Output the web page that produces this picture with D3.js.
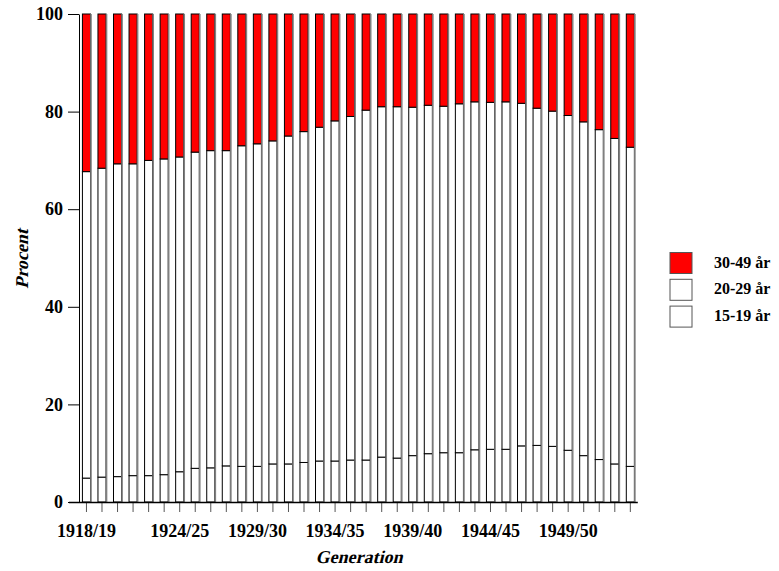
<!DOCTYPE html>
<html>
<head>
<meta charset="utf-8">
<script src="https://cdn.jsdelivr.net/npm/d3@7"></script>
<style>
  body { margin: 0; background: #fff; }
  text { font-family: "Liberation Serif", serif; font-weight: bold; }
</style>
</head>
<body>
<div id="chart"></div>
<script>
var width = 779;
var height = 571;
var serif = "'Liberation Serif', 'Times New Roman', serif";

// generations 1918/19 .. 1953/54
var generations = d3.range(1918, 1954).map(function(y) {
  return y + "/" + String((y + 1) % 100).padStart(2, "0");
});
var labelledGenerations = ["1918/19", "1924/25", "1929/30", "1934/35", "1939/40", "1944/45", "1949/50"];

// share of children by mother's age, percent
var age15_19 = [4.9, 5.1, 5.2, 5.4, 5.4, 5.6, 6.2, 6.9, 7.0, 7.4, 7.3, 7.3, 7.8, 7.8, 8.1, 8.4, 8.4, 8.6,
                8.6, 9.2, 9.0, 9.5, 9.9, 10.1, 10.1, 10.7, 10.8, 10.8, 11.5, 11.6, 11.4, 10.6, 9.5, 8.7, 7.8, 7.3];
var age20_29 = [62.8, 63.3, 64.1, 63.9, 64.6, 64.7, 64.5, 64.8, 65.0, 64.6, 65.7, 66.1, 66.2, 67.2, 67.8, 68.4, 69.7, 70.4,
                71.7, 71.8, 72.0, 71.4, 71.4, 71.0, 71.5, 71.3, 71.1, 71.2, 70.2, 69.1, 68.7, 68.6, 68.4, 67.6, 66.7, 65.4];
var age30_49 = [32.3, 31.6, 30.7, 30.7, 30.0, 29.7, 29.3, 28.3, 28.0, 28.0, 27.0, 26.6, 26.0, 25.0, 24.1, 23.2, 21.9, 21.0,
                19.7, 19.0, 19.0, 19.1, 18.7, 18.9, 18.4, 18.0, 18.1, 18.0, 18.3, 19.3, 19.9, 20.8, 22.1, 23.7, 25.5, 27.3];

var yTicks = [0, 20, 40, 60, 80, 100];

var seriesNames = ["15-19 år", "20-29 år", "30-49 år"];
var seriesColors = ["#ffffff", "#ffffff", "#ff0000"];

var table = generations.map(function(g, i) {
  return { gen: g, "15-19 år": age15_19[i], "20-29 år": age20_29[i], "30-49 år": age30_49[i] };
});

var stack = d3.stack().keys(seriesNames);
var stacked = stack(table);

/* Scales */
var x = d3.scaleBand()
  .domain(generations)
  .range([79, 637.8])
  .paddingInner(0.48)
  .paddingOuter(0.22);

var y = d3.scaleLinear()
  .domain([0, 100])
  .range([502, 14]);

var svg = d3.select("#chart")
  .append("svg")
  .attr("width", width)
  .attr("height", height);

/* Bars */
var layers = svg.append("g").attr("class", "bars")
  .selectAll("g")
  .data(stacked)
  .enter()
  .append("g")
  .attr("fill", function(d, i) { return seriesColors[i]; });

layers.selectAll("rect")
  .data(function(d) { return d; })
  .enter()
  .append("rect")
  .attr("x", function(d) { return x(d.data.gen); })
  .attr("y", function(d) { return y(d[1]); })
  .attr("width", x.bandwidth())
  .attr("height", function(d) { return y(d[0]) - y(d[1]); })
  .attr("stroke", "#000")
  .attr("stroke-width", 1);

// grey shade on the right side of each bar
svg.append("g")
  .selectAll("line")
  .data(generations)
  .enter()
  .append("line")
  .attr("x1", function(d) { return x(d) + x.bandwidth() + 0.5; })
  .attr("x2", function(d) { return x(d) + x.bandwidth() + 0.5; })
  .attr("y1", y(100))
  .attr("y2", y(0))
  .attr("stroke", "#808080")
  .attr("stroke-width", 1.6);

/* Axes */
var xAxis = d3.axisBottom(x)
  .tickSize(10)
  .tickPadding(12)
  .tickSizeOuter(0)
  .tickFormat(function(d) { return labelledGenerations.indexOf(d) >= 0 ? d : ""; });

var gx = svg.append("g")
  .attr("transform", "translate(0," + y(0) + ")")
  .call(xAxis)
  .attr("font-family", serif)
  .attr("font-size", 18);
gx.select(".domain").remove();
gx.selectAll(".tick line").attr("stroke", "#555");
gx.selectAll("text").attr("fill", "#000");

svg.append("line")
  .attr("x1", 69).attr("x2", 637.8)
  .attr("y1", y(0) + 0.5).attr("y2", y(0) + 0.5)
  .attr("stroke", "#000")
  .attr("stroke-width", 1.3);

var yAxis = d3.axisLeft(y)
  .tickValues(yTicks)
  .tickSize(11)
  .tickPadding(5)
  .tickSizeOuter(0);

var gy = svg.append("g")
  .attr("transform", "translate(79,0)")
  .call(yAxis)
  .attr("font-family", serif)
  .attr("font-size", 18);
gy.select(".domain").attr("stroke", "#000");
gy.selectAll("text").attr("fill", "#000");

/* Axis titles (slanted serif bold, the italic face is not available) */
svg.append("text")
  .attr("transform", "translate(359,563) skewX(-14)")
  .attr("text-anchor", "middle")
  .attr("font-family", serif)
  .attr("font-size", 18)
  .attr("font-weight", "bold")
  .text("Generation");

svg.append("text")
  .attr("transform", "translate(28,259) rotate(-90) skewX(-14)")
  .attr("text-anchor", "middle")
  .attr("font-family", serif)
  .attr("font-size", 18)
  .attr("font-weight", "bold")
  .text("Procent");

/* Legend */
var legendOrder = ["30-49 år", "20-29 år", "15-19 år"];
var legend = svg.selectAll(".legend")
  .data(legendOrder)
  .enter()
  .append("g")
  .attr("class", "legend")
  .attr("transform", function(d, i) { return "translate(670," + (252.5 + i * 26.8) + ")"; });

legend.append("rect")
  .attr("width", 22)
  .attr("height", 21)
  .attr("fill", function(d) { return seriesColors[seriesNames.indexOf(d)]; })
  .attr("stroke", "#555")
  .attr("stroke-width", 1);

legend.append("text")
  .attr("x", 44)
  .attr("y", 15)
  .attr("font-family", serif)
  .attr("font-size", 16)
  .attr("font-weight", "bold")
  .text(function(d) { return d; });
</script>
</body>
</html>
